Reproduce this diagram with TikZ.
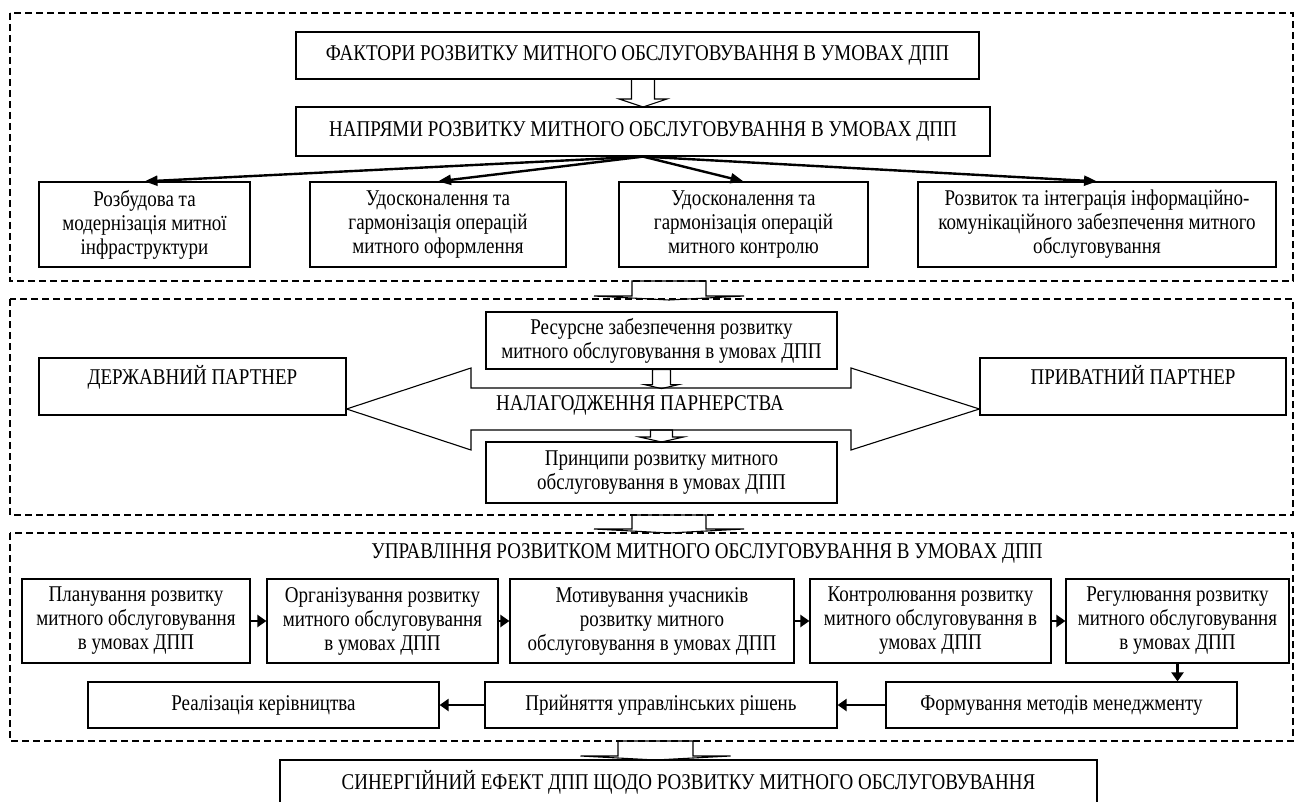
\documentclass[tikz,border=0pt]{standalone}
\usepackage{fontspec}
\setmainfont{Liberation Serif}[FakeStretch=0.845]
\usetikzlibrary{arrows.meta,calc}

% hollow block arrow pointing down: top point, length, shaft half, head half, head length
\newcommand{\fatdown}[5]{%
  \draw[line width=1.1pt] ($(#1)+(-#3,0)$) -- ++(0,#2-#5) -- ++(#3-#4,0)
    -- ($(#1)+(0,#2)$) -- ($(#1)+(#4,#2-#5)$) -- ($(#1)+(#3,#2-#5)$)
    -- ($(#1)+(#3,0)$) -- cycle;}

\begin{document}
\begin{tikzpicture}[x=1pt,y=-1pt,
  every node/.style={font=\fontsize{22.5}{24}\selectfont},
  box/.style={draw, line width=1.2pt, align=center, inner sep=0pt},
  sect/.style={draw, line width=1.6pt, dash pattern=on 7pt off 4pt},
  link/.style={line width=2.4pt, -{Triangle[length=13pt,width=10pt]}},
  shortlink/.style={line width=2.4pt, -{Triangle[length=9pt,width=12pt]}}]

  \useasboundingbox (0,0) rectangle (1303,802);
  \clip (0,0) rectangle (1303,802);

  % dashed frames
  \draw[sect] (10,13) rectangle (1293,281);
  \draw[sect] (10,299) rectangle (1293,515);
  \draw[sect] (10,533) rectangle (1293,741);

  % --- directions
  \node[box, minimum width=683pt, minimum height=47pt] (fact) at (637.5,55.5)
    {ФАКТОРИ РОЗВИТКУ МИТНОГО ОБСЛУГОВУВАННЯ В УМОВАХ ДПП};
  \node[box, minimum width=694pt, minimum height=49pt] (dir) at (643,131.5)
    {НАПРЯМИ РОЗВИТКУ МИТНОГО ОБСЛУГОВУВАННЯ В УМОВАХ ДПП};
  \coordinate (a1) at (643,79);
  \fatdown{a1}{28}{11.5}{24}{8}

  \node[box, minimum width=211pt, minimum height=85pt] (b1) at (144.5,224.5)
    {Розбудова та\\модернізація митної\\інфраструктури};
  \node[box, minimum width=256pt, minimum height=85pt] (b2) at (438,224.5)
    {Удосконалення та\\гармонізація операцій\\митного оформлення};
  \node[box, minimum width=249pt, minimum height=85pt] (b3) at (743.5,224.5)
    {Удосконалення та\\гармонізація операцій\\митного контролю};
  \node[box, minimum width=358pt, minimum height=85pt] (b4) at (1097,224.5)
    {Розвиток та інтеграція інформаційно-\\комунікаційного забезпечення митного\\обслуговування};

  \draw[link] (dir.south) -- (b1.north);
  \draw[link] (dir.south) -- (b2.north);
  \draw[link] (dir.south) -- (b3.north);
  \draw[link] (dir.south) -- (b4.north);

  \coordinate (a2) at (669,281);
  \fatdown{a2}{19}{37}{75}{4}

  % --- partnership
  \node[box, minimum width=351pt, minimum height=57pt] (res) at (661.5,340.5)
    {Ресурсне забезпечення розвитку\\митного обслуговування в умовах ДПП};
  \node[box, minimum width=351pt, minimum height=61pt] (prin) at (661.5,472.5)
    {Принципи розвитку митного\\обслуговування в умовах ДПП};
  \node[box, minimum width=307pt, minimum height=57pt,
    text height=15pt, text depth=19pt] (state) at (192.5,386.5) {ДЕРЖАВНИЙ ПАРТНЕР};
  \node[box, minimum width=306pt, minimum height=57pt,
    text height=15pt, text depth=19pt] (priv) at (1133,386.5) {ПРИВАТНИЙ ПАРТНЕР};

  \draw[line width=1.1pt] (state.east |- 0,409) -- (471,368) -- (471,388) -- (851,388)
    -- (851,368) -- (priv.west |- 0,409) -- (851,450) -- (851,430) -- (471,430)
    -- (471,450) -- cycle;
  \node (deal) at (640,405) {НАЛАГОДЖЕННЯ ПАРНЕРСТВА};

  \fatdown{res.south}{19}{9}{17}{4}
  \coordinate (a3) at (661.5,430);
  \fatdown{a3}{12}{11}{22}{5}

  \coordinate (a4) at (669,515);
  \fatdown{a4}{18}{37}{75}{4}

  % --- management
  \node (mgmt) at (707,553) {УПРАВЛІННЯ РОЗВИТКОМ МИТНОГО ОБСЛУГОВУВАННЯ В УМОВАХ ДПП};

  \node[box, minimum width=228pt, minimum height=84pt] (r1) at (136,621)
    {Планування розвитку\\митного обслуговування\\в умовах ДПП};
  \node[box, minimum width=231pt, minimum height=84pt] (r2) at (382.5,621)
    {Організування розвитку\\митного обслуговування\\в умовах ДПП};
  \node[box, minimum width=284pt, minimum height=84pt] (r3) at (652,621)
    {Мотивування учасників\\розвитку митного\\обслуговування в умовах ДПП};
  \node[box, minimum width=241pt, minimum height=84pt] (r4) at (930.5,621)
    {Контролювання розвитку\\митного обслуговування в\\умовах ДПП};
  \node[box, minimum width=223pt, minimum height=84pt] (r5) at (1177.5,621)
    {Регулювання розвитку\\митного обслуговування\\в умовах ДПП};

  \node[box, minimum width=351pt, minimum height=46pt] (q1) at (263.5,705)
    {Реалізація керівництва};
  \node[box, minimum width=352pt, minimum height=46pt] (q2) at (661,705)
    {Прийняття управлінських рішень};
  \node[box, minimum width=351pt, minimum height=46pt] (q3) at (1061.5,705)
    {Формування методів менеджменту};

  \draw[shortlink] (r1) -- (r2);
  \draw[shortlink] (r2) -- (r3);
  \draw[shortlink] (r3) -- (r4);
  \draw[shortlink] (r4) -- (r5);
  \draw[shortlink] (r5.south) -- (r5.south |- q3.north);
  \draw[shortlink] (q3) -- (q2);
  \draw[shortlink] (q2) -- (q1);

  \coordinate (a5) at (655.5,741);
  \fatdown{a5}{19}{37.5}{75}{4}

  \node[box, minimum width=817pt, minimum height=44pt] (effect) at (688.5,782)
    {СИНЕРГІЙНИЙ ЕФЕКТ ДПП ЩОДО РОЗВИТКУ МИТНОГО ОБСЛУГОВУВАННЯ};
\end{tikzpicture}
\end{document}
